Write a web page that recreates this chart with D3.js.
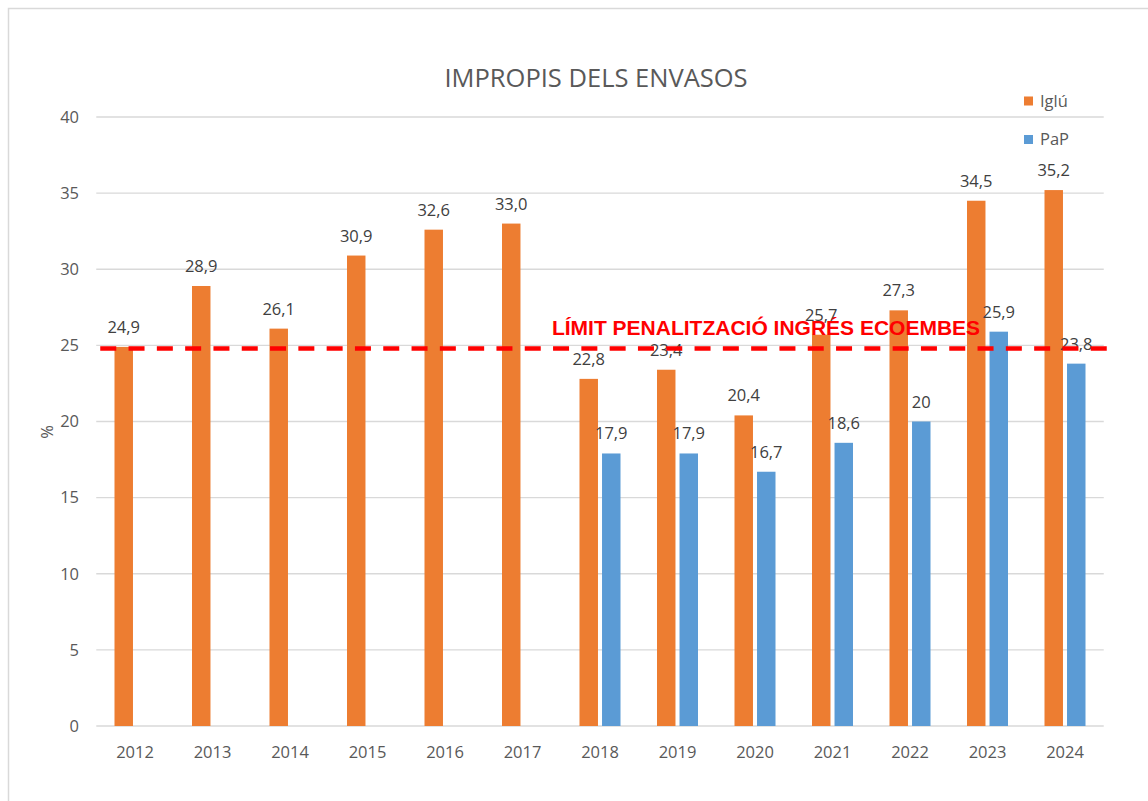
<!DOCTYPE html>
<html lang="ca">
<head>
<meta charset="utf-8">
<title>Impropis dels envasos</title>
<style>
  body { margin: 0; background: #fff; }
  svg { display: block; font-family: 'Open Sans', sans-serif; }
  .grid line { stroke: #d9d9d9; stroke-width: 1.3; }
  .tick-label { fill: #595959; font-size: 16.5px; }
  .data-label { fill: #404040; font-size: 16.5px; text-anchor: middle; }
</style>
</head>
<body>
<svg id="chart" width="1148" height="801"></svg>
<script src="https://d3js.org/d3.v7.min.js"></script>
<script>
// data
var years = ["2012", "2013", "2014", "2015", "2016", "2017", "2018", "2019", "2020", "2021", "2022", "2023", "2024"];
var series = ["Iglú", "PaP"];
var iglu = [24.9, 28.9, 26.1, 30.9, 32.6, 33.0, 22.8, 23.4, 20.4, 25.7, 27.3, 34.5, 35.2];
var iglu_labels = ["24,9", "28,9", "26,1", "30,9", "32,6", "33,0", "22,8", "23,4", "20,4", "25,7", "27,3", "34,5", "35,2"];
var pap = [null, null, null, null, null, null, 17.9, 17.9, 16.7, 18.6, 20, 25.9, 23.8];
var pap_labels = ["", "", "", "", "", "", "17,9", "17,9", "16,7", "18,6", "20", "25,9", "23,8"];
var yTicks = [0, 5, 10, 15, 20, 25, 30, 35, 40];
var limitValue = 24.8;
var limitText = "LÍMIT PENALITZACIÓ INGRÉS ECOEMBES";
var title = "IMPROPIS DELS ENVASOS";

var colors = { "Iglú": "#ed7d31", "PaP": "#5b9bd5" };

var svg = d3.select("#chart");

// outer frame
svg.append("rect")
  .attr("x", 8.5).attr("y", 8.5)
  .attr("width", 1200).attr("height", 900)
  .attr("fill", "none").attr("stroke", "#d9d9d9").attr("stroke-width", 1.5);

var x0 = d3.scaleBand().domain(years).range([96.25, 1103.75]).padding(0);
var x1 = d3.scaleBand().domain(series).range([18.25, 59.25]).paddingInner(0.18);
var y = d3.scaleLinear().domain([0, 40]).range([726, 117]);

// grid lines
svg.append("g").attr("class", "grid")
  .selectAll("line").data(yTicks).enter().append("line")
  .attr("x1", x0.range()[0]).attr("x2", x0.range()[1])
  .attr("y1", function(d) { return y(d); })
  .attr("y2", function(d) { return y(d); });

// y tick labels
svg.append("g").selectAll("text").data(yTicks).enter().append("text")
  .attr("class", "tick-label")
  .attr("x", 79).attr("y", function(d) { return y(d); })
  .attr("dy", "0.35em")
  .attr("text-anchor", "end")
  .text(function(d) { return d; });

// x labels
svg.append("g").selectAll("text").data(years).enter().append("text")
  .attr("class", "tick-label")
  .attr("x", function(d) { return x0(d) + x0.bandwidth() / 2; })
  .attr("y", 758)
  .attr("text-anchor", "middle")
  .text(function(d) { return d; });

// y axis title
svg.append("text")
  .attr("class", "tick-label")
  .attr("transform", "translate(53,432) rotate(-90)")
  .attr("text-anchor", "middle")
  .text("%");

// chart title
svg.append("text")
  .attr("x", 596).attr("y", 87)
  .attr("text-anchor", "middle")
  .attr("fill", "#595959")
  .style("font-size", "25.5px")
  .text(title);

// bars
var rows = years.map(function(yr, i) {
  return { year: yr, vals: [
    { s: "Iglú", v: iglu[i], label: iglu_labels[i] },
    { s: "PaP", v: pap[i], label: pap_labels[i] }
  ] };
});

var groups = svg.append("g").selectAll("g").data(rows).enter().append("g")
  .attr("transform", function(d) { return "translate(" + x0(d.year) + ",0)"; });

groups.selectAll("rect")
  .data(function(d) { return d.vals.filter(function(e) { return e.v != null; }); })
  .enter().append("rect")
  .attr("x", function(d) { return x1(d.s); })
  .attr("width", x1.bandwidth())
  .attr("y", function(d) { return y(d.v); })
  .attr("height", function(d) { return y(0) - y(d.v); })
  .attr("fill", function(d) { return colors[d.s]; });

groups.selectAll("text")
  .data(function(d) { return d.vals.filter(function(e) { return e.v != null; }); })
  .enter().append("text")
  .attr("class", "data-label")
  .attr("x", function(d) { return x1(d.s) + x1.bandwidth() / 2; })
  .attr("y", function(d) { return y(d.v) - 14; })
  .text(function(d) { return d.label; });

// limit line
svg.append("line")
  .attr("x1", x0.range()[0] + 4).attr("x2", x0.range()[1] + 3)
  .attr("y1", y(limitValue)).attr("y2", y(limitValue))
  .attr("stroke", "#ff0000").attr("stroke-width", 4.5)
  .attr("stroke-dasharray", "16,12.3");

svg.append("text")
  .attr("x", 766).attr("y", 335)
  .attr("text-anchor", "middle")
  .attr("fill", "#ff0000")
  .style("font-family", "'Liberation Sans', Arial, sans-serif")
  .style("font-weight", "bold")
  .style("font-size", "21px")
  .text(limitText);

// legend
var legend = svg.append("g").selectAll("g").data(series).enter().append("g")
  .attr("transform", function(d, i) { return "translate(1024," + (96.5 + i * 38.5) + ")"; });
legend.append("rect")
  .attr("width", 9).attr("height", 9)
  .attr("fill", function(d) { return colors[d]; });
legend.append("text")
  .attr("class", "tick-label")
  .attr("x", 16).attr("y", 10)
  .text(function(d) { return d; });
</script>
</body>
</html>
